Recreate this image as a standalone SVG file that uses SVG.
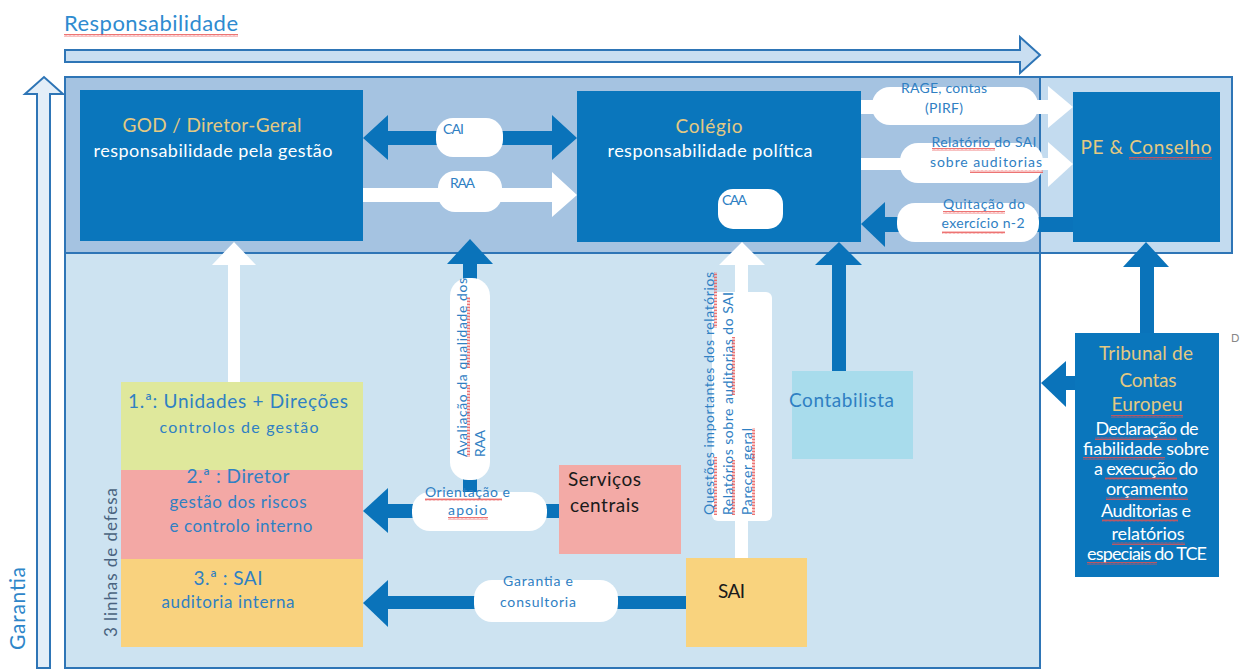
<svg xmlns="http://www.w3.org/2000/svg" width="1242" height="671" viewBox="0 0 1242 671">
<defs>
<pattern id="wv" width="4" height="3" patternUnits="userSpaceOnUse"><path d="M0 2.5 L1 0.5 L2 2.5 L3 0.5 L4 2.5" stroke="#e8504f" stroke-width="0.8" fill="none"/></pattern>
</defs>
<style>
text{font-family:Lato,"Open Sans","Liberation Sans",sans-serif}
.box{fill:#0a76bc}
.arr{fill:#0a73ba}
.wa{fill:#ffffff}
.pill{fill:#ffffff}
.tan{fill:#e4c982;font-size:19px}
.wt{fill:#ffffff;font-size:18px}
.bt{fill:#2f80c3}
.lbl{fill:#2f80c3;font-size:14px}
.blk{fill:#1a1a1a;font-size:19px}
.sq{fill:url(#wv)}
.c{text-anchor:middle}
</style>
<rect width="1242" height="671" fill="#ffffff"/>
<g id="frames">
<polygon points="65,50 1020,50 1020,37 1040,55 1020,73 1020,62 65,62" fill="#c9def1" stroke="#2e75b6" stroke-width="2"/>
<polygon points="37,668 37,94 25,94 44,77 63,94 50,94 50,668" fill="#e3eef8" stroke="#2e75b6" stroke-width="2"/>
<rect x="65" y="253" width="975" height="415" fill="#cde3f1" stroke="#2e75b6" stroke-width="2"/>
<rect x="1040" y="77" width="192" height="176" fill="#c3dbef" stroke="#2e75b6" stroke-width="2"/>
<rect x="65" y="77" width="975" height="176" fill="#a5c3e1" stroke="#2e75b6" stroke-width="2"/>
<text x="64" y="31" font-size="22" fill="#2e8bd0" textLength="174">Responsabilidade</text>
<text transform="translate(25,650) rotate(-90)" font-size="21" fill="#2e86c9" textLength="83">Garantia</text>
<text transform="translate(117,637) rotate(-90)" font-size="17" fill="#4a6380" textLength="149">3 linhas de defesa</text>
<text x="1231" y="342" font-size="11" fill="#888888">D</text>
</g>
<g id="connectors">
<polygon class="arr" points="363,138 388,115 388,131 552,131 552,115 577,138 552,160 552,145 388,145 388,160"/>
<rect class="pill" x="436" y="118" width="67" height="39" rx="17"/>
<polygon class="wa" points="363,188 552,188 552,172 577,195 552,217 552,202 363,202"/>
<rect class="pill" x="438" y="171" width="64" height="41" rx="17"/>
<rect class="wa" x="861" y="100" width="190" height="14"/>
<polygon class="wa" points="1048,86 1073,107 1048,128"/>
<rect class="pill" x="872" y="87" width="166" height="38" rx="18"/>
<rect class="wa" x="861" y="158" width="190" height="12"/>
<polygon class="wa" points="1048,142 1073,164 1048,187"/>
<rect class="pill" x="900" y="143" width="143" height="40" rx="18"/>
<rect class="arr" x="883" y="217" width="190" height="15"/>
<polygon class="arr" points="861,224 885,202 885,247"/>
<rect class="pill" x="897" y="203" width="142" height="39" rx="18"/>
<polygon class="wa" points="228,382 228,265 212,265 234,242 256,265 240,265 240,382"/>
<polygon class="arr" points="447,264 470,239 493,264"/>
<rect class="arr" x="463" y="262" width="14" height="232"/>
<rect class="pill" x="450" y="278" width="40" height="202" rx="18"/>
<polygon class="arr" points="363,511 388,488 388,533"/>
<rect class="arr" x="386" y="504" width="173" height="14"/>
<rect class="pill" x="412" y="492" width="135" height="39" rx="18"/>
<polygon class="arr" points="363,603 388,580 388,627"/>
<rect class="arr" x="386" y="596" width="300" height="13"/>
<rect class="pill" x="474" y="580" width="144" height="42" rx="18"/>
<polygon class="wa" points="735,558 735,265 719,265 742,242 765,265 748,265 748,558"/>
<rect class="pill" x="712" y="292" width="60" height="229" rx="6"/>
<polygon class="arr" points="815,265 839,242 862,265"/>
<rect class="arr" x="832" y="263" width="14" height="108"/>
<polygon class="arr" points="1123,267 1146,242 1169,267"/>
<rect class="arr" x="1140" y="265" width="14" height="68"/>
<polygon class="arr" points="1041,383 1066,361 1066,407"/>
<rect class="arr" x="1064" y="376" width="11" height="14"/>
<text class="lbl" x="443" y="134" textLength="21">CAI</text>
<text class="lbl" x="450" y="188" textLength="25">RAA</text>
<text class="lbl c" x="944" y="93" textLength="86">RAGE, contas</text>
<text class="lbl c" x="944" y="113" textLength="38">(PIRF)</text>
<text class="lbl c" x="984" y="147" textLength="105">Relatório do SAI</text>
<text class="lbl c" x="986" y="167" textLength="112">sobre auditorias</text>
<text class="lbl c" x="984" y="209" textLength="82">Quitação do</text>
<text class="lbl c" x="983" y="228" textLength="83">exercício n-2</text>
<text class="lbl" transform="translate(467,457) rotate(-90)" textLength="179">Avaliação da qualidade dos</text>
<text class="lbl" transform="translate(485,457) rotate(-90)" textLength="27">RAA</text>
<text class="lbl" x="425" y="497" textLength="85">Orientação e</text>
<text class="lbl" x="448" y="515" textLength="39">apoio</text>
<text class="lbl" transform="translate(714,515) rotate(-90)" textLength="243">Questões importantes dos relatórios</text>
<text class="lbl" transform="translate(733,515) rotate(-90)" textLength="223">Relatórios sobre auditorias  do SAI</text>
<text class="lbl" transform="translate(752,515) rotate(-90)" textLength="87">Parecer geral</text>
<text class="lbl c" x="538" y="586" textLength="70">Garantia e</text>
<text class="lbl c" x="538" y="607" textLength="76">consultoria</text>
</g>
<g id="god">
<rect class="box" x="80" y="90" width="283" height="151"/>
<text class="tan c" x="212" y="132" textLength="179">GOD / Diretor-Geral</text>
<text class="wt c" x="213" y="157" textLength="239">responsabilidade  pela gestão</text>
</g>
<g id="colegio">
<rect class="box" x="577" y="91" width="284" height="151"/>
<text class="tan c" x="709" y="133" textLength="67">Colégio</text>
<text class="wt c" x="710" y="157" textLength="205">responsabilidade  política</text>
<rect class="pill" x="718" y="189" width="65" height="40" rx="15"/>
<text class="lbl" x="722" y="205" textLength="25">CAA</text>
</g>
<g id="pe-conselho">
<rect class="box" x="1073" y="92" width="147" height="150"/>
<text class="tan c" x="1146" y="154" textLength="131">PE &amp; Conselho</text>
</g>
<g id="linha1">
<rect x="121" y="382" width="242" height="88" fill="#dfe89c"/>
<text class="bt c" x="238" y="408" font-size="19" textLength="220">1.ª: Unidades + Direções</text>
<text class="bt c" x="239" y="433" font-size="16" textLength="159">controlos  de gestão</text>
</g>
<g id="linha2">
<rect x="121" y="470" width="242" height="89" fill="#f3a8a5"/>
<text class="bt c" x="238" y="483" font-size="19" textLength="103">2.ª : Diretor</text>
<text class="bt c" x="238" y="508" font-size="17" textLength="137">gestão dos riscos</text>
<text class="bt c" x="241" y="532" font-size="17" textLength="143">e controlo  interno</text>
</g>
<g id="linha3">
<rect x="121" y="559" width="242" height="88" fill="#f9d27e"/>
<text class="bt c" x="228" y="585" font-size="19" textLength="69">3.ª : SAI</text>
<text class="bt c" x="228" y="608" font-size="17" textLength="133">auditoria  interna</text>
</g>
<g id="servicos">
<rect x="559" y="465" width="122" height="89" fill="#f3aaa6"/>
<text class="blk" x="568" y="486" textLength="73">Serviços</text>
<text class="blk" x="570" y="512" textLength="69">centrais</text>
</g>
<g id="sai">
<rect x="686" y="558" width="121" height="89" fill="#f9d37e"/>
<text class="blk" x="718" y="598" textLength="27">SAI</text>
</g>
<g id="contabilista">
<rect x="792" y="371" width="121" height="88" fill="#a8dcec"/>
<text class="bt" x="789" y="407" font-size="19" textLength="105">Contabilista</text>
</g>
<g id="tribunal">
<rect class="box" x="1075" y="333" width="144" height="244"/>
<text class="tan c" x="1146" y="360" font-size="18" textLength="94">Tribunal de</text>
<text class="tan c" x="1148" y="387" font-size="18" textLength="57">Contas</text>
<text class="tan c" x="1147" y="411" font-size="18" textLength="71">Europeu</text>
<text class="wt c" x="1147" y="435" font-size="14" textLength="103">Declaração de</text>
<text class="wt c" x="1146" y="455" font-size="14" textLength="126">fiabilidade sobre</text>
<text class="wt c" x="1146" y="475" font-size="14" textLength="104">a execução do</text>
<text class="wt c" x="1147" y="495" font-size="14" textLength="82">orçamento</text>
<text class="wt c" x="1146" y="517" font-size="14" textLength="90">Auditorias e</text>
<text class="wt c" x="1148" y="540" font-size="14" textLength="73">relatórios</text>
<text class="wt c" x="1147" y="560" font-size="14" textLength="120">especiais do TCE</text>
</g>
<g id="spellcheck">
<rect class="sq" x="64" y="34" width="174" height="3"/>
<rect class="sq" x="1129" y="157" width="83" height="3"/>
<rect class="sq" x="932" y="148" width="63" height="3"/>
<rect class="sq" x="970" y="170" width="73" height="3"/>
<rect class="sq" x="943" y="211" width="62" height="3"/>
<rect class="sq" x="942" y="231" width="63" height="3"/>
<rect class="sq" x="425" y="498" width="77" height="3"/>
<rect class="sq" x="448" y="517" width="40" height="3"/>
<rect class="sq" x="467" y="385" width="3" height="72"/>
<rect class="sq" x="467" y="297" width="3" height="71"/>
<rect class="sq" x="714" y="457" width="3" height="58"/>
<rect class="sq" x="714" y="272" width="3" height="56"/>
<rect class="sq" x="732" y="460" width="3" height="55"/>
<rect class="sq" x="732" y="337" width="3" height="58"/>
<rect class="sq" x="752" y="428" width="3" height="87"/>
<rect class="sq" x="1111" y="415" width="72" height="3"/>
<rect class="sq" x="1095" y="437" width="82" height="3"/>
<rect class="sq" x="1083" y="457" width="82" height="3"/>
<rect class="sq" x="1105" y="477" width="72" height="3"/>
<rect class="sq" x="1106" y="497" width="82" height="3"/>
<rect class="sq" x="1102" y="519" width="76" height="3"/>
<rect class="sq" x="1112" y="542" width="73" height="3"/>
<rect class="sq" x="1087" y="562" width="70" height="3"/>
</g>
</svg>
